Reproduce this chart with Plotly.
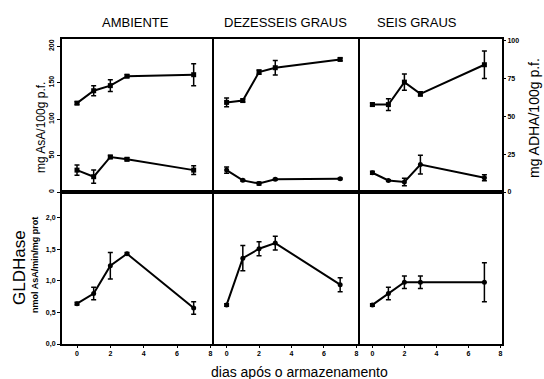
import plotly.graph_objects as go

days = [0, 1, 2, 3, 7]

# mg AsA/100g p.f. (left axis, upper curves)
asa_amb = [122, 139, 146, 159, 161]
asa_amb_err = [2, 7, 8, 2, 15]
asa_16 = [123, 125.5, 164.6, 170.6, 182]
asa_16_err = [6, 2, 3, 10, 2]
asa_6 = [120, 120, 150.8, 134.7, 174.7]
asa_6_err = [2, 8, 11, 3, 19]

# mg ADHA/100g p.f. (right axis, lower curves)
dha_amb = [14.3, 10, 22.9, 21.4, 14.3]
dha_amb_err = [3.3, 4.3, 1, 1, 2.9]
dha_16 = [14.3, 7.6, 5.5, 8.3, 8.7]
dha_16_err = [2, 0.5, 1, 0.5, 0.5]
dha_6 = [12.7, 7.6, 6.6, 18.1, 9.4]
dha_6_err = [1, 0.5, 2.4, 6.2, 2]

# GLDHase nmol AsA/min/mg prot
gl_amb = [0.64, 0.80, 1.24, 1.43, 0.57]
gl_amb_err = [0.02, 0.1, 0.21, 0.02, 0.1]
gl_16 = [0.62, 1.36, 1.51, 1.60, 0.94]
gl_16_err = [0.02, 0.2, 0.11, 0.11, 0.11]
gl_6 = [0.62, 0.80, 0.98, 0.98, 0.98]
gl_6_err = [0.02, 0.1, 0.1, 0.1, 0.31]

col_titles = ["AMBIENTE", "DEZESSEIS GRAUS", "SEIS GRAUS"]
x_ticks = [0, 2, 4, 6, 8]
asa_ticks = [0, 50, 100, 150, 200]
dha_ticks = [0, 25, 50, 75, 100]
gl_ticks = [0.0, 0.5, 1.0, 1.5, 2.0]

W, H = 544, 379
def px(a, b):
    return [a / W, b / W]
def py(top, bot):
    return [1 - bot / H, 1 - top / H]

cols = [px(62, 212), px(212, 358), px(358, 502)]
top_row = py(39, 192)
bot_row = py(192, 344)

fig = go.Figure()

def add(x, y, err, xa, ya, sym):
    fig.add_trace(go.Scatter(
        x=x, y=y, xaxis=xa, yaxis=ya, mode="lines+markers",
        line=dict(color="black", width=2),
        marker=dict(color="black", size=5, symbol=sym),
        error_y=dict(type="data", array=err, visible=True, color="black",
                     thickness=1.5, width=2.5),
        showlegend=False, cliponaxis=False))

add(days, asa_amb, asa_amb_err, "x", "y", "square")
add(days, asa_16, asa_16_err, "x2", "y2", "square")
add(days, asa_6, asa_6_err, "x3", "y3", "square")
add(days, dha_amb, dha_amb_err, "x", "y7", "square")
add(days, dha_16, dha_16_err, "x2", "y8", "circle")
add(days, dha_6, dha_6_err, "x3", "y9", "circle")
add(days, gl_amb, gl_amb_err, "x4", "y4", "circle")
add(days, gl_16, gl_16_err, "x5", "y5", "circle")
add(days, gl_6, gl_6_err, "x6", "y6", "circle")

tickfont = dict(family="Liberation Sans", size=7, color="black")
xr = [-0.9, 8.1]
base_ax = dict(showline=True, linecolor="black", linewidth=2, mirror=True,
               showgrid=False, zeroline=False, automargin=False, fixedrange=True)

layout = {}
names_x = ["xaxis", "xaxis2", "xaxis3", "xaxis4", "xaxis5", "xaxis6"]
names_y = ["yaxis", "yaxis2", "yaxis3", "yaxis4", "yaxis5", "yaxis6"]
for i in range(6):
    c = cols[i % 3]
    r = top_row if i < 3 else bot_row
    ya = "y" if i == 0 else "y%d" % (i + 1)
    xa = "x" if i == 0 else "x%d" % (i + 1)
    xd = dict(base_ax, domain=c, range=xr, anchor=ya)
    if i >= 3:
        xd.update(tickmode="array", tickvals=x_ticks,
                  ticktext=["<b>%d</b>" % t for t in x_ticks],
                  ticks="outside", ticklen=2, tickcolor="black", tickfont=tickfont)
    else:
        xd.update(showticklabels=False, ticks="")
    layout[names_x[i]] = xd
    yd = dict(base_ax, domain=r, anchor=xa)
    if i % 3 != 0:
        yd.update(side="right", mirror=False)
    if i < 3:
        yd.update(range=[0, 210])
    else:
        yd.update(range=[0, 2.41])
    if i == 0:
        yd.update(tickmode="array", tickvals=asa_ticks,
                  ticktext=["<b>%d</b>" % t for t in asa_ticks],
                  ticks="outside", ticklen=3, tickcolor="black",
                  tickfont=tickfont, tickangle=-90)
    elif i == 3:
        yd.update(tickmode="array", tickvals=gl_ticks,
                  ticktext=["<b>%s</b>" % ("%.1f" % t).replace(".", ",") for t in gl_ticks],
                  ticks="outside", ticklen=3, tickcolor="black", tickfont=tickfont)
    else:
        yd.update(showticklabels=False, ticks="")
    layout[names_y[i]] = yd

layout["yaxis7"] = dict(overlaying="y", range=[0, 100], visible=False, domain=top_row,
                        anchor="x", fixedrange=True)
layout["yaxis8"] = dict(overlaying="y2", range=[0, 100], visible=False, domain=top_row,
                        anchor="x2", fixedrange=True)
layout["yaxis9"] = dict(overlaying="y3", side="right", range=[0, 101], domain=top_row,
                        anchor="x3", showgrid=False, zeroline=False, automargin=False,
                        fixedrange=True, showline=False,
                        tickmode="array", tickvals=dha_ticks,
                        ticktext=["<b>%d</b>" % t for t in dha_ticks],
                        ticks="outside", ticklen=3, tickcolor="black", tickfont=tickfont)

fig.update_layout(**layout)

ann = []
for t, xc in zip(col_titles, [135, 285, 417]):
    ann.append(dict(text=t, x=xc / W, y=1 - 23 / H, xref="paper", yref="paper",
                    showarrow=False, font=dict(family="Liberation Sans", size=13, color="black"),
                    xanchor="center", yanchor="middle"))
ann.append(dict(text="mg AsA/100g p.f.", x=41 / W, y=1 - 128 / H, xref="paper", yref="paper",
                showarrow=False, textangle=-90,
                font=dict(family="Liberation Sans", size=12, color="black"),
                xanchor="center", yanchor="middle"))
ann.append(dict(text="mg ADHA/100g p.f.", x=534 / W, y=1 - 118 / H, xref="paper", yref="paper",
                showarrow=False, textangle=-90,
                font=dict(family="Liberation Sans", size=14, color="black"),
                xanchor="center", yanchor="middle"))
ann.append(dict(text="GLDHase", x=19 / W, y=1 - 268 / H, xref="paper", yref="paper",
                showarrow=False, textangle=-90,
                font=dict(family="Liberation Sans", size=17, color="black"),
                xanchor="center", yanchor="middle"))
ann.append(dict(text="<b>nmol AsA/min/mg prot</b>", x=35 / W, y=1 - 265 / H, xref="paper",
                yref="paper", showarrow=False, textangle=-90,
                font=dict(family="Liberation Sans", size=9, color="black"),
                xanchor="center", yanchor="middle"))
ann.append(dict(text="dias após o armazenamento", x=299 / W, y=1 - 372 / H, xref="paper",
                yref="paper", showarrow=False,
                font=dict(family="Liberation Sans", size=14, color="black"),
                xanchor="center", yanchor="middle"))

fig.update_layout(width=W, height=H, margin=dict(l=0, r=0, t=0, b=0),
                  paper_bgcolor="white", plot_bgcolor="white", annotations=ann)

fig.write_html("out.html", config={"displayModeBar": False})
